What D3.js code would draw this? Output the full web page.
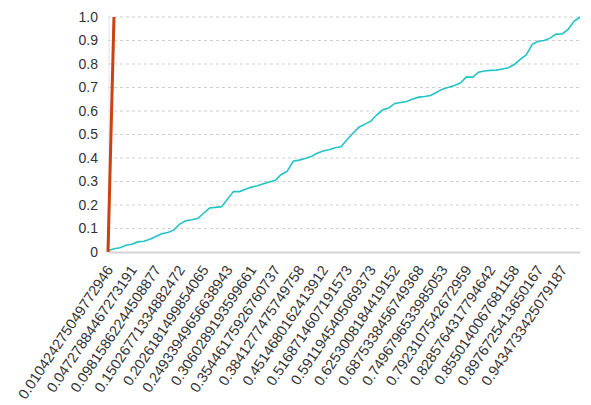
<!DOCTYPE html>
<html>
<head>
<meta charset="utf-8">
<script src="https://cdn.jsdelivr.net/npm/d3@7"></script>
<style>
  body { margin: 0; background: #fff; }
  svg { display: block; font-family: "Liberation Sans", Arial, sans-serif; }
</style>
</head>
<body>
<div id="chart"></div>
<script>
// Tick labels shown on the x axis (every 4th category)
const xTickLabels = [
    "0.010424275049772946", "0.04727884467273191", "0.09815862244508877",
    "0.15026771334882472", "0.2026181499854065", "0.24933949656638943",
    "0.3060289193599661", "0.35446175926760737", "0.3841277475749758",
    "0.4514680162413912", "0.5168714607191573", "0.5911945405069373",
    "0.6253008184419152", "0.6875338456749368", "0.7496796533985053",
    "0.7923107542672959", "0.8285764317794642", "0.8550140067681158",
    "0.8976725413650167", "0.9434733425079187"
];
const tickEvery = 4;

// Cumulative series (teal), one value per category
const cumValues = [
    0.005, 0.014, 0.018, 0.029, 0.033, 0.043, 0.046, 0.054, 0.066, 0.078,
    0.083, 0.093, 0.119, 0.133, 0.137, 0.142, 0.165, 0.187, 0.190, 0.193,
    0.225, 0.257, 0.257, 0.267, 0.276, 0.282, 0.290, 0.298, 0.305, 0.330,
    0.344, 0.386, 0.391, 0.398, 0.406, 0.420, 0.430, 0.435, 0.444, 0.448,
    0.478, 0.505, 0.531, 0.544, 0.557, 0.584, 0.605, 0.613, 0.632, 0.636,
    0.640, 0.651, 0.659, 0.662, 0.666, 0.680, 0.693, 0.701, 0.708, 0.720,
    0.745, 0.743, 0.765, 0.770, 0.773, 0.774, 0.779, 0.784, 0.798, 0.820,
    0.839, 0.884, 0.897, 0.900, 0.910, 0.927, 0.928, 0.947, 0.982, 1.000
];

// Reference series (red), only the first two categories
const refValues = [0, 1];

const yTicks = [0, 0.1, 0.2, 0.3, 0.4, 0.5, 0.6, 0.7, 0.8, 0.9, 1.0];

const width = 591, height = 405;
const margin = { top: 17, right: 11, bottom: 153, left: 108 };
const innerW = width - margin.left - margin.right;
const innerH = height - margin.top - margin.bottom;

const svg = d3.select('#chart').append('svg')
    .attr('width', width)
    .attr('height', height);

const g = svg.append('g')
    .attr('transform', `translate(${margin.left},${margin.top})`);

const x = d3.scalePoint()
    .domain(d3.range(cumValues.length))
    .range([0, innerW]);

const y = d3.scaleLinear()
    .domain([0, 1])
    .range([innerH, 0]);

// Grid lines
g.append('g')
    .selectAll('line')
    .data(yTicks.filter(d => d > 0))
    .enter().append('line')
    .attr('x1', 0)
    .attr('x2', innerW)
    .attr('y1', d => y(d))
    .attr('y2', d => y(d))
    .attr('stroke', '#cfcfcf')
    .attr('stroke-width', 1)
    .attr('stroke-dasharray', '3 3');

// Faint y axis line
g.append('line')
    .attr('x1', 1).attr('x2', 1)
    .attr('y1', 0).attr('y2', innerH)
    .attr('stroke', '#e4e2f2')
    .attr('stroke-width', 1);

// Y axis labels
const yAxis = g.append('g')
    .call(d3.axisLeft(y)
        .tickValues(yTicks)
        .tickSize(0)
        .tickPadding(10)
        .tickFormat(d => d === 0 ? '0' : d.toFixed(1)));
yAxis.select('.domain').remove();
yAxis.selectAll('text')
    .attr('fill', '#333')
    .style('font-size', '14px');

// X axis
const xAxis = g.append('g')
    .attr('transform', `translate(0,${innerH})`)
    .call(d3.axisBottom(x)
        .tickValues(d3.range(0, cumValues.length, tickEvery))
        .tickSize(0)
        .tickFormat(i => xTickLabels[i / tickEvery]));
xAxis.select('.domain')
    .attr('stroke', '#d4d4d4')
    .attr('stroke-width', 2);
xAxis.selectAll('text')
    .attr('fill', '#333')
    .style('font-size', '14.5px')
    .attr('text-anchor', 'end')
    .attr('dy', '0.35em')
    .attr('y', 0)
    .attr('transform', 'translate(1,15) rotate(-56)');

// Lines
const line = d3.line()
    .x((d, i) => x(i))
    .y(d => y(d));

g.append('path')
    .datum(cumValues)
    .attr('fill', 'none')
    .attr('stroke', '#22c3c6')
    .attr('stroke-width', 1.6)
    .attr('d', line);

g.append('path')
    .datum(refValues)
    .attr('fill', 'none')
    .attr('stroke', '#c9420f')
    .attr('stroke-width', 3)
    .attr('d', line);
</script>
</body>
</html>
